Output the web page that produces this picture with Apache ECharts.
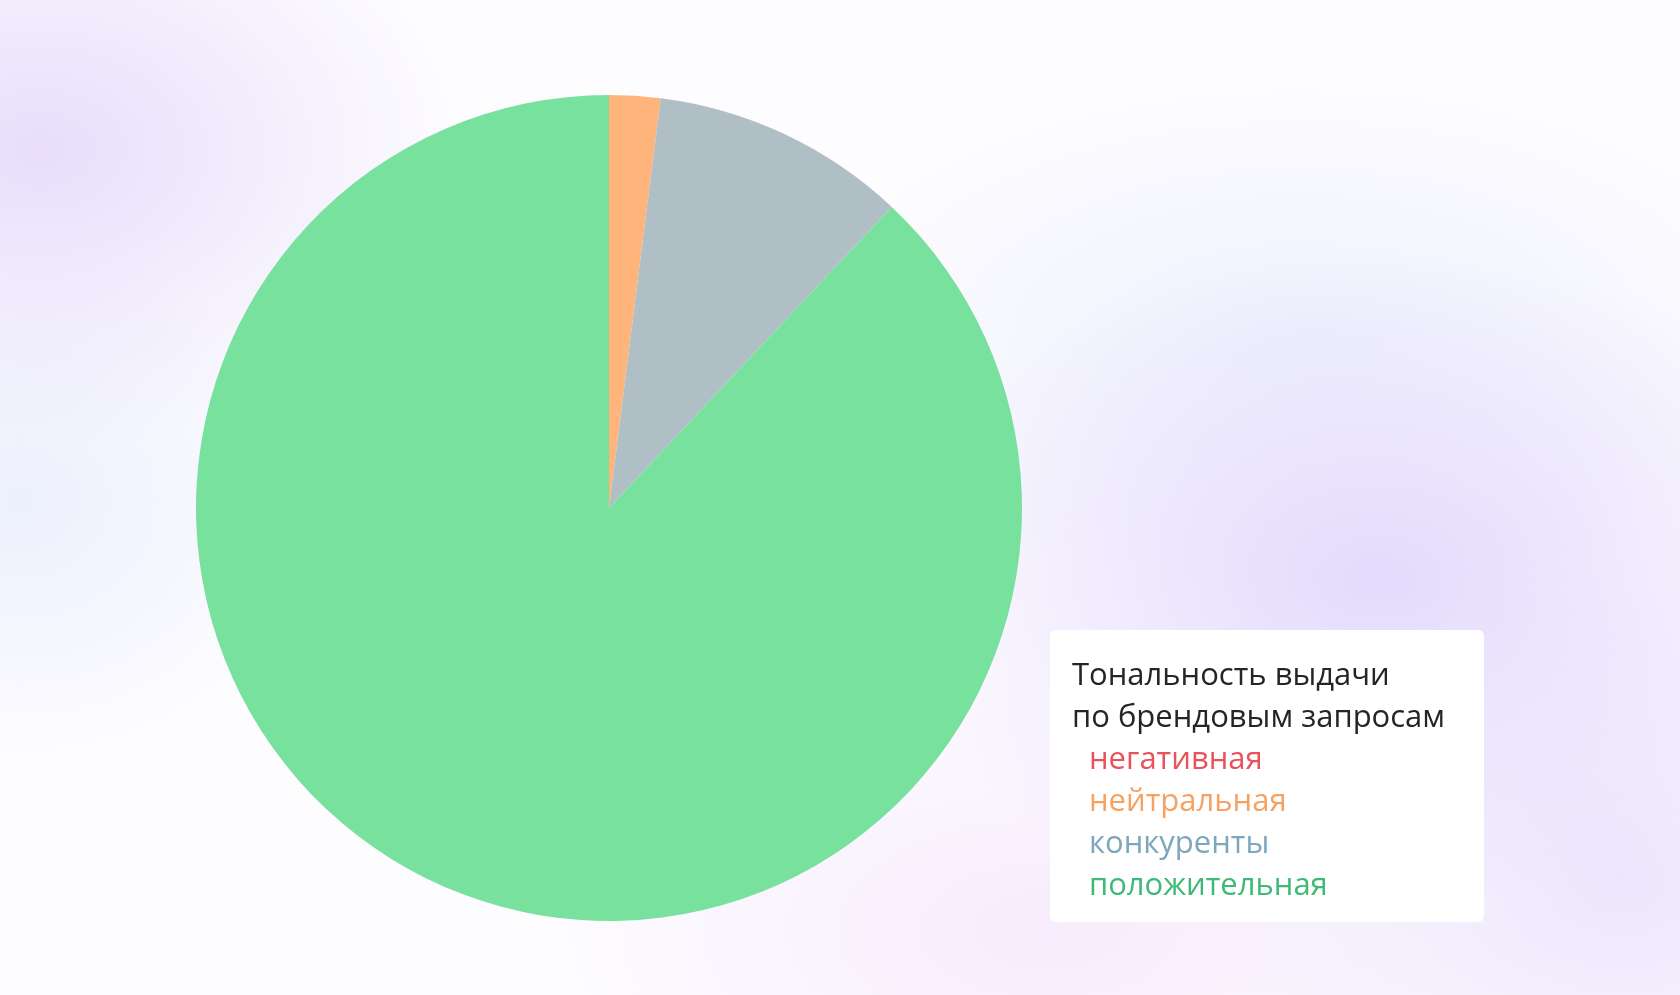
<!DOCTYPE html>
<html>
<head>
<meta charset="utf-8">
<script src="https://cdn.jsdelivr.net/npm/echarts@6/dist/echarts.min.js"></script>
<style>
html,body{margin:0;padding:0;width:1680px;height:995px;overflow:hidden;}
body{
  background:
    radial-gradient(ellipse 420px 300px at 40px 150px, rgba(226,214,250,0.8), rgba(226,214,250,0) 100%),
    radial-gradient(ellipse 300px 260px at 20px 500px, rgba(225,232,252,0.6), rgba(225,232,252,0) 100%),
    radial-gradient(ellipse 520px 330px at 1380px 580px, rgba(226,216,252,0.95), rgba(226,216,252,0) 100%),
    radial-gradient(ellipse 520px 260px at 1300px 340px, rgba(232,236,252,0.7), rgba(232,236,252,0) 100%),
    radial-gradient(ellipse 500px 260px at 1050px 930px, rgba(245,232,252,0.8), rgba(245,232,252,0) 100%),
    radial-gradient(ellipse 420px 300px at 1620px 880px, rgba(232,224,252,0.8), rgba(232,224,252,0) 100%),
    #fdfcff;
}
#chart{width:1680px;height:995px;}
</style>
</head>
<body>
<div id="chart"></div>
<script>
const categories = ['негативная', 'нейтральная', 'конкуренты', 'положительная'];
const values = [0, 2, 10, 88];
const sliceColors = ['#e8525a', '#ffb47c', '#b0bec5', '#78e19d'];
const legendColors = ['#e8525a', '#f5a263', '#7ea6bd', '#3dba75'];
const legendTitle = 'Тональность выдачи\nпо брендовым запросам';

const chart = echarts.init(document.getElementById('chart'), null, {renderer: 'canvas'});
chart.setOption({
  backgroundColor: 'transparent',
  animation: false,
  graphic: [{
    type: 'rect',
    z: 0,
    shape: {x: 1050, y: 630, width: 434, height: 292, r: 6},
    style: {fill: '#ffffff'}
  }],
  title: {
    text: legendTitle,
    left: 1067,
    top: 650,
    z: 5,
    textStyle: {
      fontFamily: 'Open Sans',
      fontSize: 31,
      fontWeight: 'normal',
      color: '#252525',
      lineHeight: 42
    }
  },
  legend: {
    orient: 'vertical',
    left: 1079,
    top: 734,
    z: 5,
    icon: 'none',
    itemWidth: 0,
    itemHeight: 10,
    itemGap: 0,
    selectedMode: false,
    data: categories.map((c, i) => ({name: c, textStyle: {color: legendColors[i]}})),
    textStyle: {
      fontFamily: 'Open Sans',
      fontSize: 31,
      lineHeight: 42
    }
  },
  series: [{
    type: 'pie',
    center: [609, 508],
    radius: 413,
    startAngle: 90,
    clockwise: true,
    label: {show: false},
    labelLine: {show: false},
    emphasis: {disabled: true},
    itemStyle: {borderWidth: 0},
    data: categories.map((c, i) => ({name: c, value: values[i], itemStyle: {color: sliceColors[i]}}))
  }]
});
</script>
</body>
</html>
